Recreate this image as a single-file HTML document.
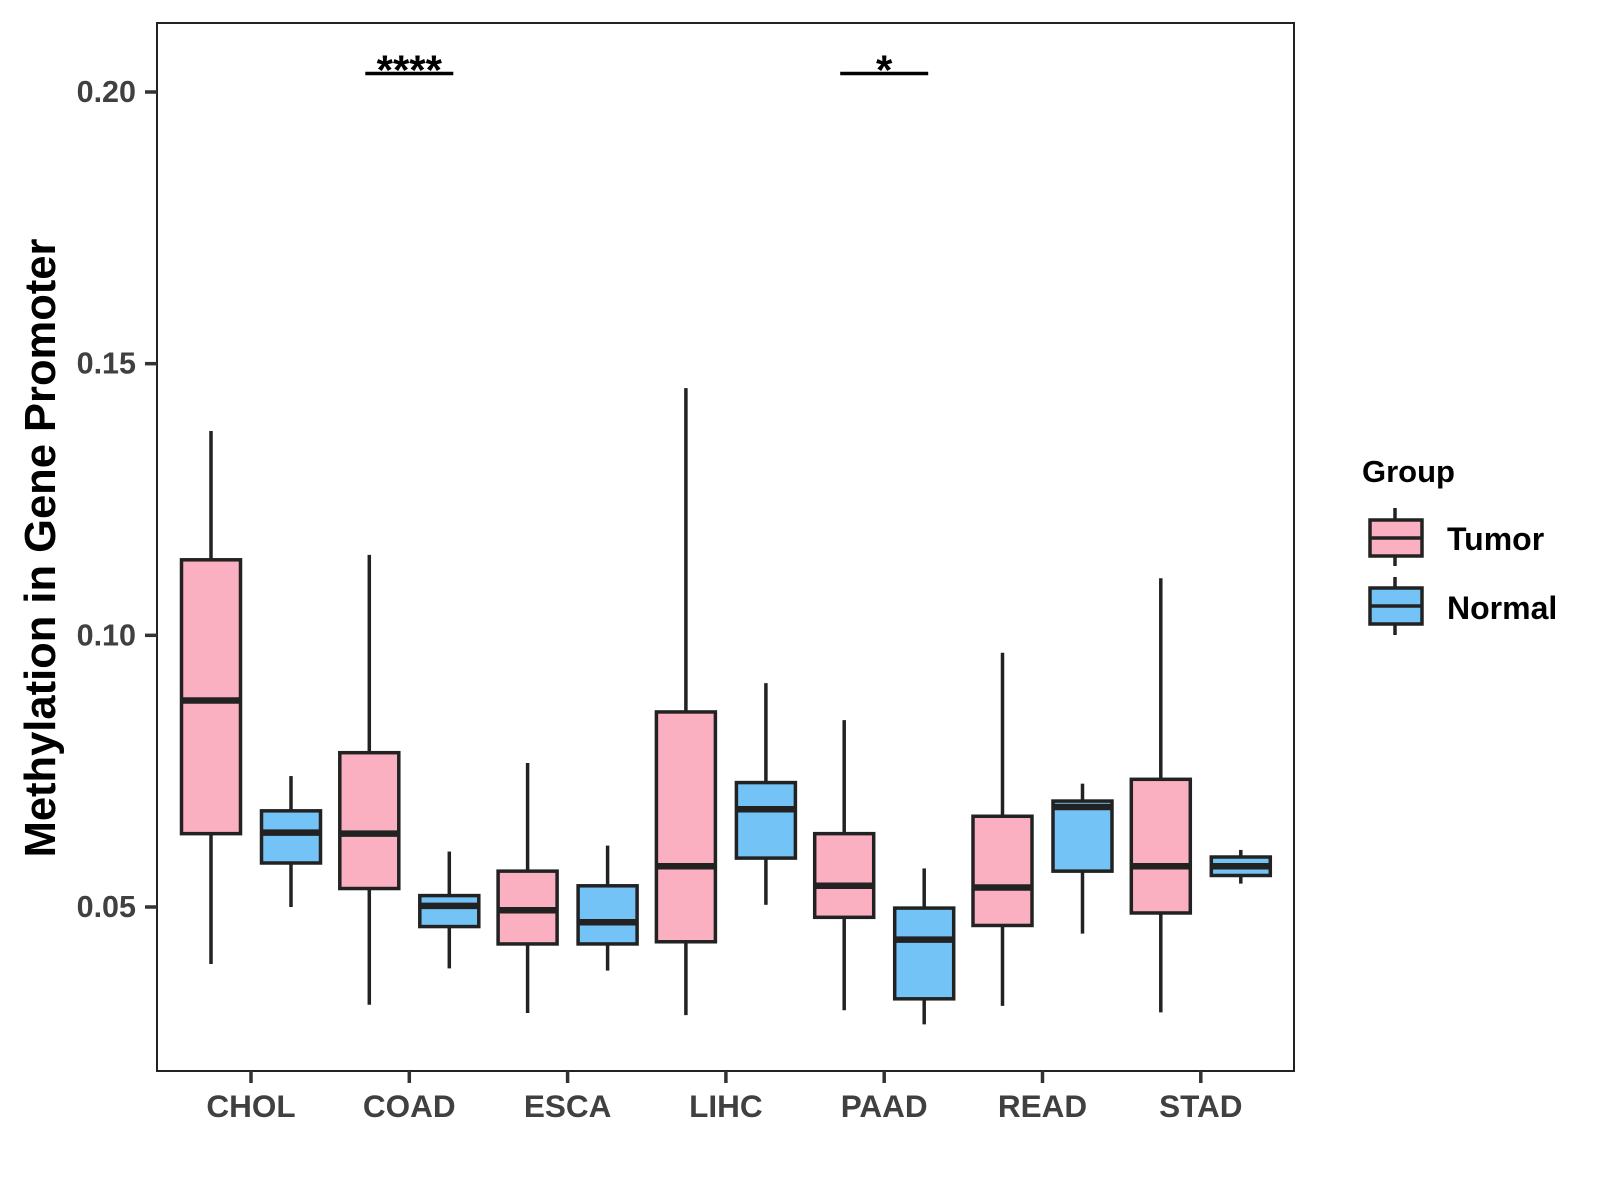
<!DOCTYPE html>
<html><head><meta charset="utf-8"><style>
html,body{margin:0;padding:0;background:#fff;}
svg{display:block;font-family:"Liberation Sans",Arial,sans-serif;}
</style></head><body>
<svg id="chart" width="1600" height="1200" viewBox="0 0 1600 1200">
<rect x="0" y="0" width="1600" height="1200" fill="#fff"/>
<g id="marks"></g>
<rect x="157" y="23" width="1137" height="1048" fill="none" stroke="#222" stroke-width="2"/>
<g id="axes"></g>
<text x="0" y="0" transform="translate(55,548) rotate(-90)" text-anchor="middle" font-size="43.5" font-weight="bold" fill="#000">Methylation in Gene Promoter</text>
<g>
<text x="1362" y="482" font-size="31" font-weight="bold" fill="#000">Group</text>
<g>
<line x1="1395" y1="508" x2="1395" y2="566" stroke="#222" stroke-width="3.5"/>
<rect x="1370" y="520" width="52" height="36" fill="#FBB0C2" stroke="#222" stroke-width="3.5"/>
<line x1="1370" y1="538" x2="1422" y2="538" stroke="#222" stroke-width="3.5"/>
<text x="1447" y="550" font-size="32" font-weight="bold" fill="#000">Tumor</text>
</g>
<g>
<line x1="1395" y1="577" x2="1395" y2="635" stroke="#222" stroke-width="3.5"/>
<rect x="1370" y="588" width="52" height="36" fill="#74C3F6" stroke="#222" stroke-width="3.5"/>
<line x1="1370" y1="606" x2="1422" y2="606" stroke="#222" stroke-width="3.5"/>
<text x="1447" y="619" font-size="32" font-weight="bold" fill="#000">Normal</text>
</g>
</g>
</svg>
<script>
const categories = ["CHOL","COAD","ESCA","LIHC","PAAD","READ","STAD"];
const tumorLow  = [0.0395,0.032,0.0305,0.0301,0.031,0.0318,0.0306];
const tumorQ1   = [0.0635,0.0534,0.0432,0.0436,0.0481,0.0466,0.0489];
const tumorMed  = [0.088,0.0635,0.0494,0.0575,0.0539,0.0536,0.0575];
const tumorQ3   = [0.1139,0.0784,0.0566,0.0859,0.0635,0.0667,0.0735];
const tumorHigh = [0.1376,0.1148,0.0765,0.1455,0.0844,0.0968,0.1105];
const normalLow  = [0.050,0.0387,0.0383,0.0504,0.0284,0.0451,0.0543];
const normalQ1   = [0.0581,0.0464,0.0432,0.059,0.0331,0.0566,0.0558];
const normalMed  = [0.0637,0.0502,0.0472,0.068,0.044,0.0684,0.0575];
const normalQ3   = [0.0677,0.0521,0.0539,0.0729,0.0498,0.0695,0.0592];
const normalHigh = [0.0741,0.0602,0.0613,0.0912,0.0571,0.0727,0.0605];
const yTicks = [0.05,0.10,0.15,0.20];
const yTickLabels = ["0.05","0.10","0.15","0.20"];
const sigCategories = ["COAD","PAAD"];
const sigLabels = ["****","*"];
const sigValue = 0.2034;

const NS="http://www.w3.org/2000/svg";
function y(v){ return 907 - (v-0.05)*5433.3; }
function x(i){ return 251 + i*158.3; }
const marks=document.getElementById('marks');
const axes=document.getElementById('axes');
function mk(tag,attrs,parent){const e=document.createElementNS(NS,tag);for(const k in attrs)e.setAttribute(k,attrs[k]);parent.appendChild(e);return e;}

function box(cx,lo,q1,md,q3,hi,fill,name){
  const g=mk('g',{},marks);
  
  
  const w=59;
  mk('line',{x1:cx,x2:cx,y1:y(hi),y2:y(q3),stroke:'#222','stroke-width':3.5},g);
  mk('line',{x1:cx,x2:cx,y1:y(q1),y2:y(lo),stroke:'#222','stroke-width':3.5},g);
  mk('rect',{x:cx-w/2,y:y(q3),width:w,height:y(q1)-y(q3),fill:fill,stroke:'#222','stroke-width':3.5},g);
  mk('line',{x1:cx-w/2,x2:cx+w/2,y1:y(md),y2:y(md),stroke:'#222','stroke-width':6.5},g);
}
categories.forEach((c,i)=>{
  box(x(i)-40,tumorLow[i],tumorQ1[i],tumorMed[i],tumorQ3[i],tumorHigh[i],'#FBB0C2','box-tumor-'+c.toLowerCase());
  box(x(i)+40,normalLow[i],normalQ1[i],normalMed[i],normalQ3[i],normalHigh[i],'#74C3F6','box-normal-'+c.toLowerCase());
  const t=mk('line',{x1:x(i),x2:x(i),y1:1071,y2:1083,stroke:'#333','stroke-width':3.5},axes);
  
  
  const l=mk('text',{x:x(i),y:1117,'text-anchor':'middle','font-size':31.5,'font-weight':'bold',fill:'#404040'},axes);
  l.textContent=c;
  
  
});
yTicks.forEach((v,i)=>{
  const t=mk('line',{x1:145,x2:157,y1:y(v),y2:y(v),stroke:'#333','stroke-width':3.5},axes);
  
  
  const l=mk('text',{x:136,y:y(v)+10,'text-anchor':'end','font-size':30.5,'font-weight':'bold',fill:'#404040'},axes);
  l.textContent=yTickLabels[i];
  
  
});
sigCategories.forEach((c,k)=>{
  const i=categories.indexOf(c);
  const g=mk('g',{},marks);
  
  
  mk('line',{x1:x(i)-44,x2:x(i)+44,y1:y(sigValue),y2:y(sigValue),stroke:'#000','stroke-width':3.5},g);
  const t=mk('text',{x:x(i),y:y(sigValue)+11,'text-anchor':'middle','font-size':42,'font-weight':'bold',fill:'#000'},g);
  t.textContent=sigLabels[k];
});
</script>
</body></html>
